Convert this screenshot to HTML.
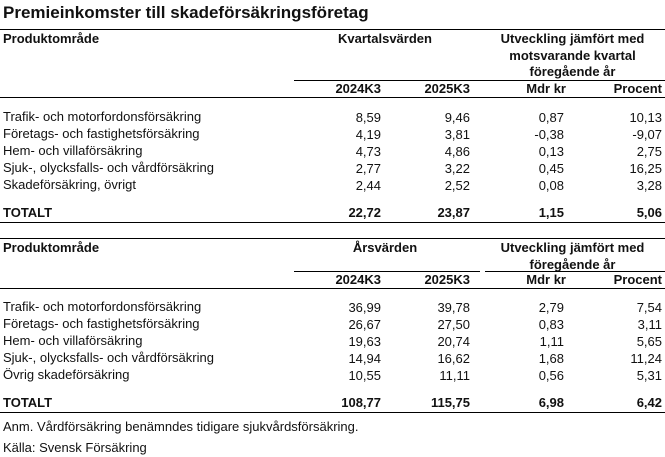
<!DOCTYPE html>
<html><head><meta charset="utf-8"><style>
body{margin:0;width:665px;height:457px;background:#fff;overflow:hidden;position:relative;font-family:"Liberation Sans Narrow","Liberation Sans",sans-serif;font-size:13px;color:#111}
.t{position:absolute;white-space:nowrap;line-height:16px;transform:translateY(-8px)}
.r{text-align:right}
.b{font-weight:bold}
.l{position:absolute;height:0;border-top:1.5px solid #000}
.c{text-align:center}
</style></head><body>
<div class="t b" style="left:3px;top:13px;font-size:17px;line-height:20px;transform:translateY(-10px)">Premieinkomster till skadeförsäkringsföretag</div>

<div class="l" style="left:0;width:665px;top:29px"></div>
<div class="t b" style="left:3px;top:39px">Produktområde</div>
<div class="t b c" style="left:300px;width:170px;top:39px">Kvartalsvärden</div>
<div class="t b c" style="left:480px;width:185px;top:39px">Utveckling jämfört med</div>
<div class="t b c" style="left:480px;width:185px;top:56px">motsvarande kvartal</div>
<div class="t b c" style="left:480px;width:185px;top:72px">föregående år</div>
<div class="l" style="left:294px;width:371px;top:80px;border-top-width:1px"></div>
<div class="t b r" style="left:300px;width:81px;top:89px">2024K3</div>
<div class="t b r" style="left:390px;width:80px;top:89px">2025K3</div>
<div class="t b r" style="left:480px;width:86px;top:89px">Mdr kr</div>
<div class="t b r" style="left:580px;width:82px;top:89px">Procent</div>
<div class="l" style="left:0;width:665px;top:97px"></div>

<div class="t" style="left:3px;top:117px">Trafik- och motorfordonsförsäkring</div>
<div class="t" style="left:3px;top:134px">Företags- och fastighetsförsäkring</div>
<div class="t" style="left:3px;top:151px">Hem- och villaförsäkring</div>
<div class="t" style="left:3px;top:168px">Sjuk-, olycksfalls- och vårdförsäkring</div>
<div class="t" style="left:3px;top:185px">Skadeförsäkring, övrigt</div>
<div class="t b" style="left:3px;top:213px">TOTALT</div>

<div class="t r" style="left:300px;width:81px;top:117px">8,59<br>4,19<br>4,73<br>2,77<br>2,44</div>
<div class="t r" style="left:390px;width:80px;top:117px">9,46<br>3,81<br>4,86<br>3,22<br>2,52</div>
<div class="t r" style="left:480px;width:84px;top:117px">0,87<br>-0,38<br>0,13<br>0,45<br>0,08</div>
<div class="t r" style="left:580px;width:82px;top:117px">10,13<br>-9,07<br>2,75<br>16,25<br>3,28</div>
<style>.t br+*{}</style>
<div class="t b r" style="left:300px;width:81px;top:213px">22,72</div>
<div class="t b r" style="left:390px;width:80px;top:213px">23,87</div>
<div class="t b r" style="left:480px;width:84px;top:213px">1,15</div>
<div class="t b r" style="left:580px;width:82px;top:213px">5,06</div>
<div class="l" style="left:0;width:665px;top:222px"></div>

<div class="l" style="left:0;width:665px;top:238px"></div>
<div class="t b" style="left:3px;top:248px">Produktområde</div>
<div class="t b c" style="left:300px;width:170px;top:248px">Årsvärden</div>
<div class="t b c" style="left:480px;width:185px;top:248px">Utveckling jämfört med</div>
<div class="t b c" style="left:480px;width:185px;top:265px">föregående år</div>
<div class="l" style="left:294px;width:186px;top:271px;border-top-width:1px"></div>
<div class="l" style="left:485px;width:180px;top:271px;border-top-width:1px"></div>
<div class="t b r" style="left:300px;width:81px;top:280px">2024K3</div>
<div class="t b r" style="left:390px;width:80px;top:280px">2025K3</div>
<div class="t b r" style="left:480px;width:86px;top:280px">Mdr kr</div>
<div class="t b r" style="left:580px;width:82px;top:280px">Procent</div>
<div class="l" style="left:0;width:665px;top:288px"></div>

<div class="t" style="left:3px;top:307px">Trafik- och motorfordonsförsäkring</div>
<div class="t" style="left:3px;top:324px">Företags- och fastighetsförsäkring</div>
<div class="t" style="left:3px;top:341px">Hem- och villaförsäkring</div>
<div class="t" style="left:3px;top:358px">Sjuk-, olycksfalls- och vårdförsäkring</div>
<div class="t" style="left:3px;top:375px">Övrig skadeförsäkring</div>
<div class="t b" style="left:3px;top:403px">TOTALT</div>

<div class="t r" style="left:300px;width:81px;top:307px;line-height:17px">36,99<br>26,67<br>19,63<br>14,94<br>10,55</div>
<div class="t r" style="left:390px;width:80px;top:307px;line-height:17px">39,78<br>27,50<br>20,74<br>16,62<br>11,11</div>
<div class="t r" style="left:480px;width:84px;top:307px;line-height:17px">2,79<br>0,83<br>1,11<br>1,68<br>0,56</div>
<div class="t r" style="left:580px;width:82px;top:307px;line-height:17px">7,54<br>3,11<br>5,65<br>11,24<br>5,31</div>
<div class="t b r" style="left:300px;width:81px;top:403px">108,77</div>
<div class="t b r" style="left:390px;width:80px;top:403px">115,75</div>
<div class="t b r" style="left:480px;width:84px;top:403px">6,98</div>
<div class="t b r" style="left:580px;width:82px;top:403px">6,42</div>
<div class="l" style="left:0;width:665px;top:412px"></div>

<div class="t" style="left:3px;top:427px">Anm. Vårdförsäkring benämndes tidigare sjukvårdsförsäkring.</div>
<div class="t" style="left:3px;top:448px">Källa: Svensk Försäkring</div>
<style>
div[style*="top:117px"].r{line-height:17px}
</style>
</body></html>
